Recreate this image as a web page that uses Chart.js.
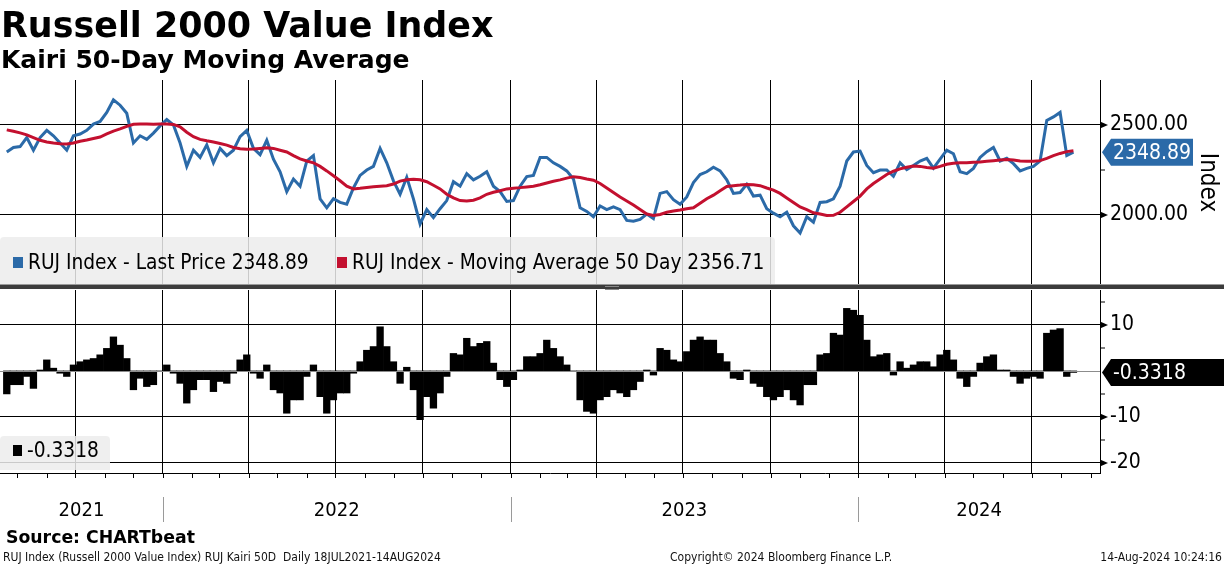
<!DOCTYPE html>
<html>
<head>
<meta charset="utf-8">
<script src="https://cdn.jsdelivr.net/npm/chart.js"></script>
<style>
  body { margin: 0; width: 1224px; height: 566px; overflow: hidden; background: #fff; position: relative;
         font-family: 'DejaVu Sans Condensed', 'DejaVu Sans', sans-serif; color: #000; }
  canvas { position: absolute; left: 0; top: 0; }
  .txt { position: absolute; white-space: pre; }
  #title { left: 1px; top: 5px; font: bold 34.9px/40px 'DejaVu Sans', sans-serif; }
  #subtitle { left: 1px; top: 45px; font: bold 25px/30px 'DejaVu Sans', sans-serif; }
  #source { left: 6px; top: 527px; font: bold 17.3px/20px 'DejaVu Sans', sans-serif; }
  .foot { top: 550px; font-size: 12px; line-height: 14px; color: #111; }
  .legend { position: absolute; left: 0; background: rgba(236,236,236,0.85); border-radius: 4px 4px 0 0; z-index: 2; }
  .legend span { position: absolute; font-size: 20.7px; line-height: 24px; white-space: pre; }
  .legend i { position: absolute; width: 10px; height: 11px; }
  #sep { position: absolute; left: 0; top: 284px; width: 1224px; height: 5px;
         background: linear-gradient(#9a9a9a 0 1px, #3c3c3c 1px); z-index: 3; }
  #grip { position: absolute; left: 605px; top: 286px; width: 14px; height: 2px; border-top: 1px solid #888; border-bottom: 1px solid #888; z-index: 4; }
</style>
</head>
<body>
<canvas id="upper" width="1224" height="566"></canvas>
<canvas id="lower" width="1224" height="566"></canvas>

<div class="txt" id="title">Russell 2000 Value Index</div>
<div class="txt" id="subtitle">Kairi 50-Day Moving Average</div>

<div class="legend" style="top:237px;width:775px;height:48px;">
  <i style="left:13px;top:20px;background:#2b6aa8"></i>
  <span style="left:28px;top:13px">RUJ Index - Last Price 2348.89</span>
  <i style="left:337px;top:20px;background:#c3102f"></i>
  <span style="left:352px;top:13px">RUJ Index - Moving Average 50 Day 2356.71</span>
</div>
<div class="legend" style="top:436px;width:110px;height:34px;">
  <i style="left:13px;top:9px;width:9px;background:#000"></i>
  <span style="left:27px;top:2px">-0.3318</span>
</div>
<div id="sep"></div><div id="grip"></div>

<div class="txt" id="source">Source: CHARTbeat</div>
<div class="txt foot" style="left:3px">RUJ Index (Russell 2000 Value Index) RUJ Kairi 50D  Daily 18JUL2021-14AUG2024</div>
<div class="txt foot" style="left:670px">Copyright© 2024 Bloomberg Finance L.P.</div>
<div class="txt foot" style="right:2px">14-Aug-2024 10:24:16</div>

<script>
// weekly readings, 21 Jul 2021 .. 14 Aug 2024
const price = [
  2350, 2375, 2380, 2430, 2360, 2430, 2470, 2440, 2400, 2360,
  2440, 2450, 2470, 2505, 2520, 2570, 2640, 2610, 2565, 2400,
  2440, 2420, 2455, 2495, 2530, 2500, 2400, 2270, 2360, 2320,
  2390, 2290, 2370, 2330, 2360, 2435, 2470, 2370, 2335, 2415,
  2310, 2240, 2130, 2200, 2160, 2300, 2330, 2090, 2040, 2090,
  2070, 2060, 2150, 2220, 2250, 2270, 2370, 2290, 2190, 2115,
  2210, 2090, 1950, 2030, 1985, 2035, 2080, 2185, 2160, 2230,
  2195, 2215, 2240, 2160, 2130, 2075, 2080, 2160, 2213, 2220,
  2320, 2320, 2290, 2270, 2245, 2200, 2040, 2020, 1990, 2050,
  2030, 2045, 2030, 1970, 1965, 1975, 2005, 1980, 2120, 2130,
  2085, 2060, 2100, 2180, 2225, 2240, 2265, 2245, 2195, 2120,
  2125, 2170, 2105, 2110, 2035, 2010, 1990, 2015, 1940, 1900,
  1990, 1960, 2070, 2074, 2090, 2160, 2300, 2350, 2355, 2275,
  2235, 2250, 2250, 2215, 2290, 2252, 2275, 2300, 2315, 2260,
  2310, 2360, 2340, 2240, 2230, 2259, 2320, 2352, 2375, 2300,
  2315, 2285, 2245, 2259, 2270, 2300, 2525, 2545, 2570, 2330,
  2348.89
];
const movingAvg = [
  2473, 2465, 2456, 2445, 2430, 2415, 2406, 2400, 2396, 2394,
  2400, 2410, 2417, 2425, 2433, 2450, 2466, 2478, 2492, 2504,
  2506, 2505, 2504, 2505, 2506, 2503, 2490, 2460, 2435, 2420,
  2412, 2405, 2397, 2388, 2375, 2368, 2365, 2366, 2370, 2374,
  2370, 2360, 2350, 2330, 2312, 2300, 2290, 2270, 2245, 2218,
  2190, 2160, 2145, 2148, 2153, 2157, 2160, 2163, 2172, 2188,
  2196, 2198, 2196, 2185, 2165, 2145, 2115, 2095, 2080, 2078,
  2082, 2095, 2115, 2126, 2135, 2145, 2149, 2152, 2156, 2160,
  2168, 2178, 2187, 2195, 2205, 2213, 2208, 2200, 2193, 2175,
  2150, 2125, 2100, 2078, 2055, 2030, 2005, 1997, 2003, 2015,
  2022, 2028, 2035, 2040, 2065, 2090, 2110, 2135, 2158, 2163,
  2166, 2170, 2168, 2163, 2150, 2138, 2120, 2095, 2070, 2045,
  2030, 2012, 2005, 1997, 1998, 2015, 2045, 2075, 2105, 2145,
  2175, 2200, 2225, 2243, 2256, 2265, 2272, 2270, 2264, 2260,
  2270, 2282, 2287, 2290, 2290, 2293, 2295, 2299, 2302, 2305,
  2308, 2305, 2300, 2298, 2298, 2302, 2315, 2330, 2342, 2352,
  2356.71
];
const kairi = [
  -5.0, -3.0, -3.0, -1.2, -3.8, 0.2, 2.4, 0.6, -0.5, -1.2,
  1.3, 2.0, 2.4, 2.7, 3.5, 4.9, 7.4, 5.6, 2.7, -4.1,
  -1.6, -3.4, -3.0, -0.1, 1.3, -0.5, -2.7, -7.0, -4.1, -1.9,
  -1.9, -4.5, -2.3, -2.7, -0.5, 2.4, 3.5, -0.5, -1.6, 1.3,
  -4.1, -4.8, -9.2, -6.3, -6.3, -1.2, 1.3, -5.6, -9.2, -6.3,
  -4.8, -4.8, -0.5, 2.0, 4.5, 5.3, 9.6, 5.3, 2.0, -2.7,
  0.8, -4.1, -10.6, -5.6, -8.1, -4.8, -1.2, 3.8, 3.5, 7.1,
  5.3, 6.0, 6.4, 1.7, -1.9, -3.4, -1.9, 0.2, 3.1, 3.1,
  3.8, 6.7, 4.9, 3.1, 1.3, -0.1, -6.3, -8.8, -9.2, -6.3,
  -5.6, -4.1, -4.8, -5.6, -4.1, -2.3, 0.2, -0.9, 4.9, 4.5,
  2.4, 2.0, 4.2, 6.7, 7.4, 6.7, 6.7, 3.8, 2.0, -1.6,
  -1.9, 0.2, -2.7, -3.4, -5.6, -6.3, -5.6, -4.1, -6.3, -7.4,
  -3.0, -3.0, 3.5, 3.8, 8.2, 7.8, 13.6, 13.2, 12.1, 6.7,
  3.1, 3.5, 3.8, -0.9, 2.0, 0.6, 1.3, 2.0, 2.0, 0.9,
  3.5, 4.5, 2.4, -1.6, -3.4, -1.2, 1.7, 3.1, 3.5, 0.2,
  0.2, -1.2, -2.7, -1.6, -1.2, -1.6, 8.2, 8.9, 9.2, -1.2,
  -0.3318
];
const priceTicks = [2000, 2500];
const priceMinor = [2250];
const kairiTicks = [-20, -10, 10];
const kairiMinor = [-15, -5, 5, 15];
const years = [2021, 2022, 2023, 2024];

const FONT = "'DejaVu Sans Condensed', 'DejaVu Sans', sans-serif";
const BLUE = '#2b6aa8', RED = '#c3102f';

// x axis is days since 18 Jul 2021
const start = Date.UTC(2021, 6, 18);
const dayOf = (y, m, d) => (Date.UTC(y, m, d) - start) / 864e5;
const X_MIN = -4.1, X_MAX = 1150.9;
const weekX = price.map((_, i) => 3 + 7 * i);

const months = [], quarters = [];
for (let y = 2021; y <= 2024; y++) {
  for (let m = 0; m < 12; m++) {
    const d = dayOf(y, m, 1);
    if (d <= X_MIN || d >= X_MAX) continue;
    months.push(d);
    if (m % 3 === 0) quarters.push(d);
  }
}

function xScale(border) {
  return {
    type: 'linear', min: X_MIN, max: X_MAX, offset: false,
    afterBuildTicks: s => { s.ticks = quarters.map(v => ({ value: v })); },
    ticks: { display: false },
    grid: { color: '#000', lineWidth: 1, drawTicks: false, offset: false },
    border: { display: border, color: '#000', width: 1 },
    afterFit: s => { s.height = 0; }
  };
}

function arrow(ctx, x, y) {
  ctx.fillStyle = '#000';
  ctx.beginPath();
  ctx.moveTo(x, y - 3.5); ctx.lineTo(x + 8, y); ctx.lineTo(x, y + 3.5);
  ctx.closePath(); ctx.fill();
}
function minor(ctx, x, y) {
  ctx.fillStyle = '#000';
  ctx.fillRect(x, Math.round(y) - 0.5, 5, 1);
}
function badge(ctx, tip, y, right, color, label) {
  const h = 27;
  ctx.fillStyle = color;
  ctx.beginPath();
  ctx.moveTo(tip, y);
  ctx.lineTo(tip + 9, y - h / 2);
  ctx.lineTo(right, y - h / 2);
  ctx.lineTo(right, y + h / 2);
  ctx.lineTo(tip + 9, y + h / 2);
  ctx.closePath(); ctx.fill();
  ctx.fillStyle = '#fff';
  ctx.font = '21px ' + FONT;
  ctx.textBaseline = 'middle';
  ctx.textAlign = 'left';
  ctx.fillText(label, tip + 11, y + 1);
}

const upperDecor = {
  id: 'upperDecor',
  afterDraw(chart) {
    const { ctx, chartArea: a, scales: { y } } = chart;
    ctx.save();
    priceTicks.forEach(v => arrow(ctx, a.right, y.getPixelForValue(v)));
    priceMinor.forEach(v => minor(ctx, a.right, y.getPixelForValue(v)));
    badge(ctx, a.right + 2, y.getPixelForValue(price[price.length - 1]), 1193, BLUE, price[price.length - 1].toFixed(2));
    ctx.restore();
  }
};

const lowerDecor = {
  id: 'lowerDecor',
  afterDatasetsDraw(chart) {
    const { ctx, chartArea: a, scales: { y } } = chart;
    const y0 = Math.round(y.getPixelForValue(0)) + 0.5;
    ctx.save();
    ctx.strokeStyle = '#8c8c8c';
    ctx.lineWidth = 1;
    ctx.beginPath(); ctx.moveTo(a.left, y0); ctx.lineTo(a.right, y0); ctx.stroke();
    ctx.restore();
  },
  afterDraw(chart) {
    const { ctx, chartArea: a, scales: { x, y } } = chart;
    ctx.save();
    kairiTicks.forEach(v => arrow(ctx, a.right, y.getPixelForValue(v)));
    kairiMinor.forEach(v => minor(ctx, a.right, y.getPixelForValue(v)));
    badge(ctx, a.right + 2, y.getPixelForValue(kairi[kairi.length - 1]), 1226, '#000', kairi[kairi.length - 1].toFixed(4));

    // monthly tick marks under the panel
    ctx.strokeStyle = '#000';
    ctx.lineWidth = 1;
    months.forEach(d => {
      const px = Math.round(x.getPixelForValue(d)) + 0.5;
      ctx.beginPath(); ctx.moveTo(px, a.bottom); ctx.lineTo(px, a.bottom + 5); ctx.stroke();
    });

    // year labels centred on their visible span, grey separators between
    ctx.font = '20px ' + FONT;
    ctx.fillStyle = '#000';
    ctx.textAlign = 'center';
    ctx.textBaseline = 'middle';
    years.forEach(yr => {
      const from = Math.max(X_MIN, dayOf(yr, 0, 1));
      const to = Math.min(X_MAX, dayOf(yr + 1, 0, 1));
      const mid = (x.getPixelForValue(from) + x.getPixelForValue(to)) / 2;
      ctx.fillText(String(yr), mid, 511);
      if (yr > 2021) {
        const px = Math.round(x.getPixelForValue(dayOf(yr, 0, 1))) + 0.5;
        ctx.strokeStyle = '#9a9a9a';
        ctx.beginPath(); ctx.moveTo(px, 497); ctx.lineTo(px, 522); ctx.stroke();
      }
    });
    ctx.restore();
  }
};

new Chart(document.getElementById('upper'), {
  type: 'line',
  data: {
    datasets: [
      { label: 'RUJ Index - Last Price', data: price.map((v, i) => ({ x: weekX[i], y: v })),
        borderColor: BLUE, borderWidth: 3, pointRadius: 0, order: 2 },
      { label: 'RUJ Index - Moving Average 50 Day', data: movingAvg.map((v, i) => ({ x: weekX[i], y: v })),
        borderColor: RED, borderWidth: 3, pointRadius: 0, order: 1 }
    ]
  },
  options: {
    responsive: false, animation: false,
    layout: { padding: { top: 80, bottom: 281, left: 0, right: 0 } },
    plugins: { legend: { display: false }, tooltip: { enabled: false } },
    scales: {
      x: xScale(false),
      y: {
        position: 'right', min: 1611, max: 2750,
        afterBuildTicks: s => { s.ticks = priceTicks.map(v => ({ value: v })); },
        afterFit: s => { s.width = 124; },
        ticks: { color: '#000', padding: 10, font: { family: FONT, size: 21 }, callback: v => v.toFixed(2) },
        grid: { color: '#000', lineWidth: 1, drawTicks: false },
        border: { display: true, color: '#000', width: 1 },
        title: { display: true, text: 'Index', color: '#000', padding: { top: 2 }, font: { family: FONT, size: 24 } }
      }
    }
  },
  plugins: [upperDecor]
});

new Chart(document.getElementById('lower'), {
  type: 'bar',
  data: {
    datasets: [
      { label: '-0.3318', data: kairi.map((v, i) => ({ x: weekX[i], y: v })),
        backgroundColor: '#000', borderWidth: 0, barPercentage: 1, categoryPercentage: 1 }
    ]
  },
  options: {
    responsive: false, animation: false,
    layout: { padding: { top: 290, bottom: 93, left: 0, right: 0 } },
    plugins: { legend: { display: false }, tooltip: { enabled: false } },
    scales: {
      x: xScale(true),
      y: {
        position: 'right', min: -22.2, max: 17.6,
        afterBuildTicks: s => { s.ticks = kairiTicks.map(v => ({ value: v })); },
        afterFit: s => { s.width = 124; },
        ticks: { color: '#000', padding: 10, font: { family: FONT, size: 21 } },
        grid: { color: '#000', lineWidth: 1, drawTicks: false },
        border: { display: true, color: '#000', width: 1 }
      }
    }
  },
  plugins: [lowerDecor]
});
</script>
</body>
</html>
